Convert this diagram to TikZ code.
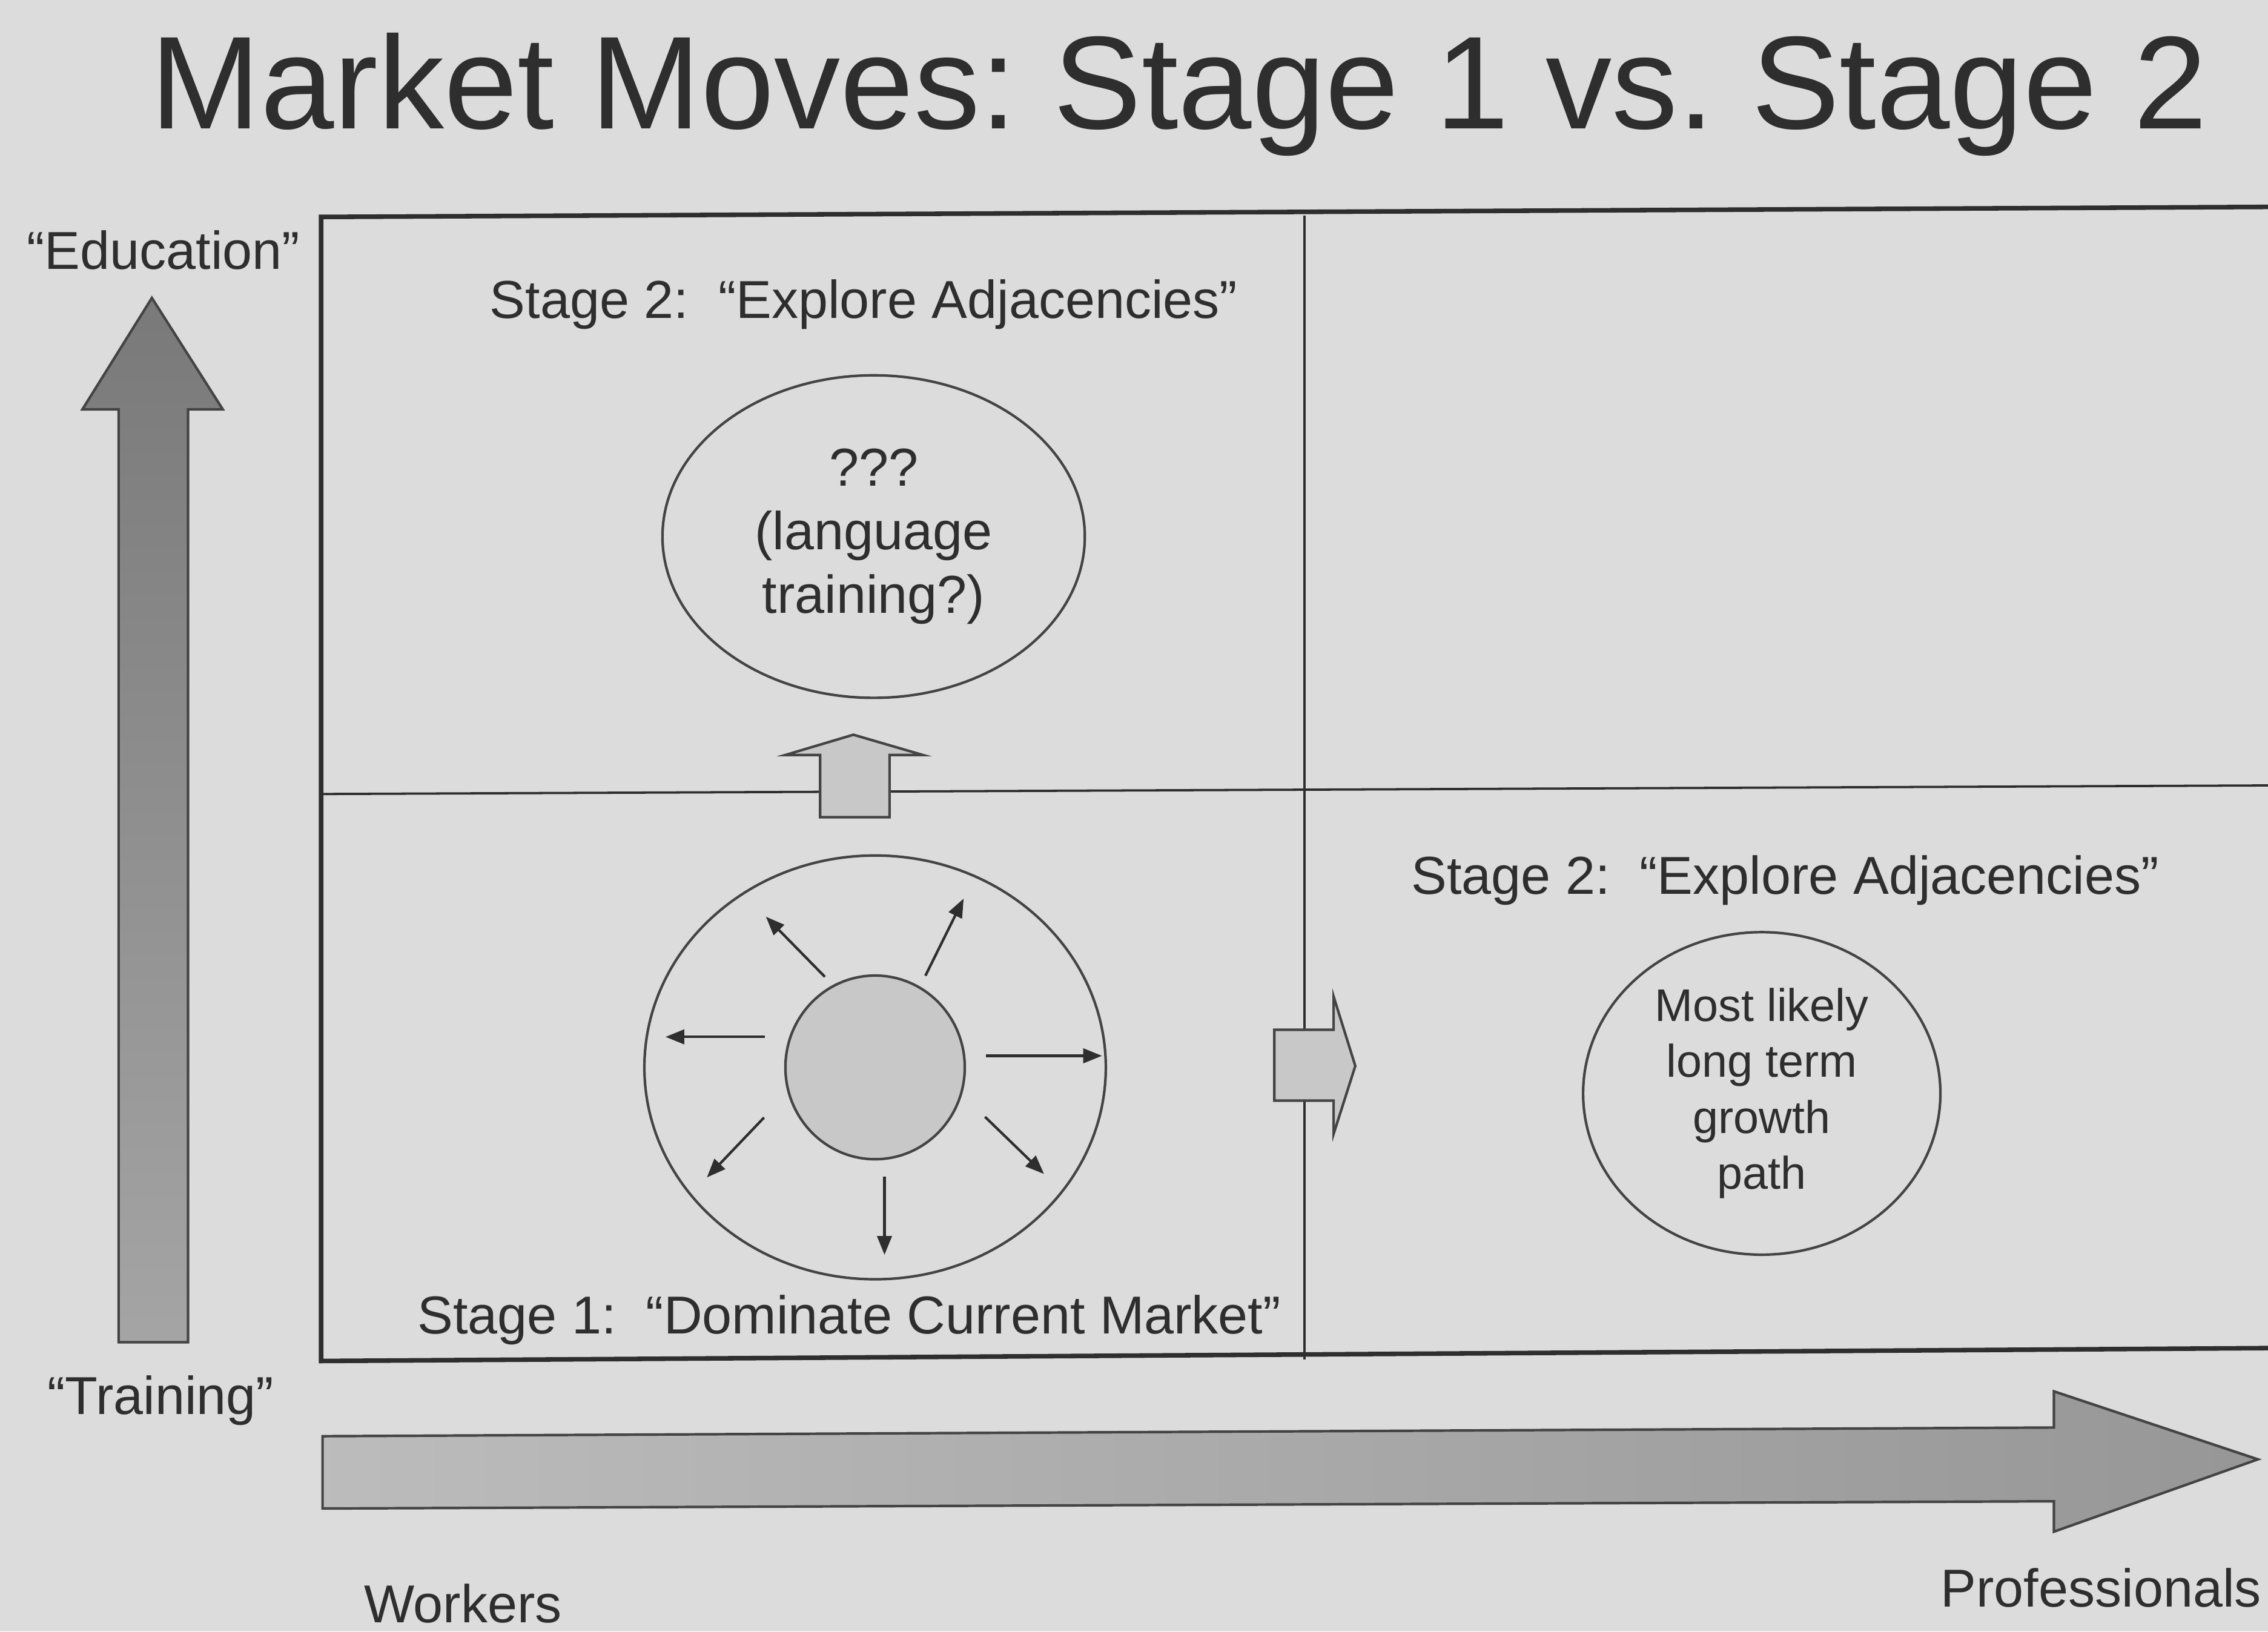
\documentclass[tikz,border=0pt]{standalone}
\usepackage{fontspec}
\setmainfont{Liberation Sans}
\usepackage{tikz}
\usetikzlibrary{arrows.meta,positioning,shapes.geometric}
\frenchspacing
\definecolor{slide}{HTML}{DCDCDC}
\definecolor{ink}{HTML}{2E2E2E}
\definecolor{rim}{HTML}{444444}
\definecolor{chip}{HTML}{C8C8C8}
\tikzset{
        label text/.style={text=ink, inner sep=0pt, font=\fontsize{10.5}{12.5}\selectfont},
        bubble/.style={ellipse, draw=rim, line width=0.5pt, align=center, text=ink, inner sep=0pt,
            font=\fontsize{10.5}{12.5}\selectfont},
        ray/.style={draw=ink, line width=0.5pt, -{Triangle[length=1.3mm, width=1mm]}},
        block/.style={draw=rim, line width=0.5pt, fill=chip},
        frame line/.style={draw=ink, line width=0.9pt},
        grid line/.style={draw=ink, line width=0.45pt},
    }

\begin{document}
\begin{tikzpicture}[x = 0.1mm, y = -0.1mm]
                \fill[slide] (0,0) rectangle (1568,1128);
                \useasboundingbox (0,0) rectangle (1568,1128);
                \node[label text, anchor=base, font=\fontsize{26}{30}\selectfont] (title) at (815,89) {Market Moves: Stage 1 vs. Stage 2};
                \begin{scope}
                    \clip (0,0) rectangle (1568,1128);
                    \draw[grid line] (902,149) -- (902,940);
                    \draw[grid line] (222,549) -- (1580,543);
                    \draw[frame line] (1580,143) -- (222,150) -- (222,941) -- (1580,932);
                \end{scope}
                \shade[top color=gray!95!black, bottom color=gray!60!slide, draw=rim, line width=0.5pt]
                    (82,928) -- (82,283) -- (57,283) -- (105,206) -- (154,283) -- (130,283) -- (130,928) -- cycle;
                \shade[left color=gray!35!slide, right color=gray!75!slide, draw=rim, line width=0.5pt]
                    (223,993) -- (1420,987) -- (1420,962) -- (1561,1009) -- (1420,1059) -- (1420,1038) -- (223,1043) -- cycle;
                \draw[block] (567,565) -- (567,522) -- (543,522) -- (590,508) -- (638,522) -- (615,522) -- (615,565) -- cycle;
                \draw[block] (881,712) -- (922,712) -- (922,689) -- (937,737) -- (922,784) -- (922,761) -- (881,761) -- cycle;
                \node[bubble, minimum width=29.2mm, minimum height=22.3mm] (language) at (604,371) {???\\(language\\training?)};
                \node[bubble, minimum width=24.7mm, minimum height=22.3mm, font=\fontsize{9}{11}\selectfont] (growth) at (1218,756) {Most likely\\long term\\growth\\path};
                \node[ellipse, draw=rim, line width=0.5pt, minimum width=31.9mm, minimum height=29.3mm] (ring) at (605,738) {};
                \node[ellipse, draw=rim, line width=0.5pt, fill=chip, minimum width=12.4mm, minimum height=12.7mm] (core) at (605,738) {};
                \foreach \sx/\sy/\ex/\ey in {-34.7/-62.6/-75.5/-104.2, 34.8/-63.4/61.2/-116.7, -76.3/-21.1/-144.9/-21.1,
                    76.8/-8/156.9/-8, -76.8/34.7/-116.3/76.1, 76/34.2/116.8/73.7, 6.5/75.6/6.5/129.6}
                {
                    \draw[ray] ([shift={(\sx,\sy)}]core.center) -- ([shift={(\ex,\ey)}]core.center);
                }
                \node[label text, anchor=base west] (explore top) at (338,220) {Stage 2:\ \ “Explore Adjacencies”};
                \node[label text, anchor=base west] (explore right) at (975,618) {Stage 2:\ \ “Explore Adjacencies”};
                \node[label text, anchor=base west] (dominate) at (288,922) {Stage 1:\ \ “Dominate Current Market”};
                \node[label text, anchor=base] (education) at (113,186) {“Education”};
                \node[label text, anchor=base] (training) at (111,978) {“Training”};
                \node[label text, anchor=base west] (workers) at (251,1122) {Workers};
                \node[label text, anchor=base east] (professionals) at (1564,1111) {Professionals};
            \end{tikzpicture}
\end{document}
